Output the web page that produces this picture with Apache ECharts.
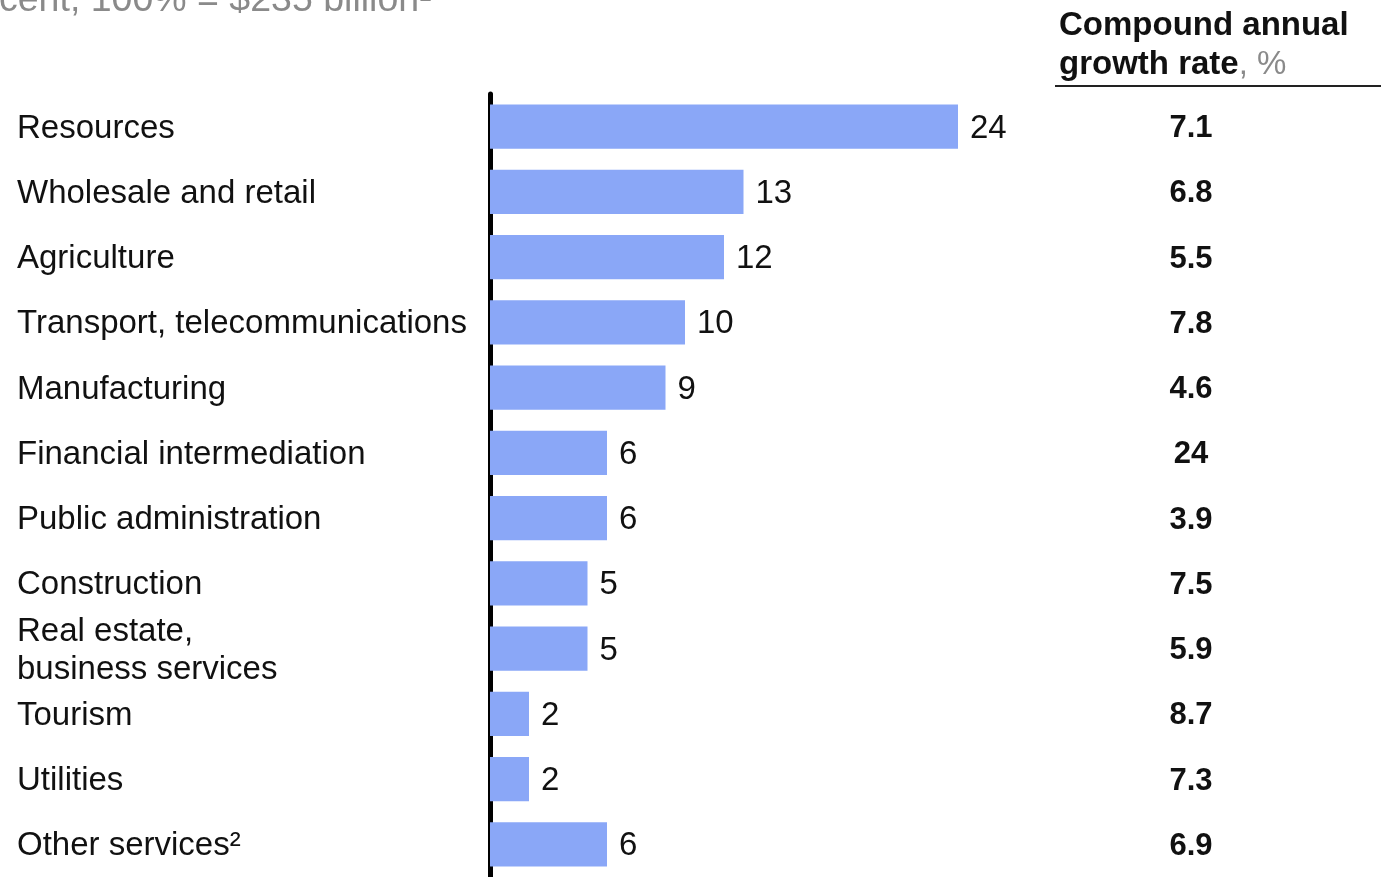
<!DOCTYPE html>
<html>
<head>
<meta charset="utf-8">
<script src="https://cdn.jsdelivr.net/npm/echarts@6/dist/echarts.min.js"></script>
<style>
  html, body { margin: 0; padding: 0; background: #fff; }
  #chart { width: 1381px; height: 877px; }
</style>
</head>
<body>
<div id="chart"></div>
<script>
// Sectors, their share of GDP (%) and compound annual growth rate (%)
const sectors = [
  'Resources',
  'Wholesale and retail',
  'Agriculture',
  'Transport, telecommunications',
  'Manufacturing',
  'Financial intermediation',
  'Public administration',
  'Construction',
  'Real estate,\nbusiness services',
  'Tourism',
  'Utilities',
  'Other services\u00B2'
];
const shares = [24, 13, 12, 10, 9, 6, 6, 5, 5, 2, 2, 6];
const cagr = ['7.1', '6.8', '5.5', '7.8', '4.6', '24', '3.9', '7.5', '5.9', '8.7', '7.3', '6.9'];

const FONT = '"Liberation Sans", Arial, Helvetica, sans-serif';

// A thin spacer line above each label nudges the text a little below the row centre
const nudged = v => '{s| }\n' + String(v).split('\n').map(l => '{a|' + l + '}').join('\n');

const chart = echarts.init(document.getElementById('chart'), null, { renderer: 'canvas' });

chart.setOption({
  animation: false,
  backgroundColor: '#ffffff',
  textStyle: { fontFamily: FONT },
  grid: { left: 490, top: 94, width: 468, height: 783 },
  xAxis: {
    type: 'value',
    min: 0,
    max: 24,
    show: false
  },
  yAxis: [
    {
      type: 'category',
      data: sectors,
      inverse: true,
      offset: 5,
      axisLine: { show: true, lineStyle: { color: '#000', width: 5 } },
      axisTick: { show: false },
      axisLabel: {
        align: 'left',
        margin: 468,
        formatter: nudged,
        rich: {
          s: { fontSize: 1, lineHeight: 4 },
          a: { fontSize: 33, lineHeight: 38, color: '#111', fontFamily: FONT }
        }
      }
    },
    {
      type: 'category',
      data: cagr,
      inverse: true,
      position: 'right',
      axisLine: { show: false },
      axisTick: { show: false },
      axisLabel: {
        align: 'center',
        margin: 233,
        formatter: nudged,
        rich: {
          s: { fontSize: 1, lineHeight: 4 },
          a: { fontSize: 31, lineHeight: 38, fontWeight: 'bold', color: '#111', fontFamily: FONT }
        }
      }
    }
  ],
  series: [
    {
      type: 'bar',
      data: shares,
      barCategoryGap: '32%',
      itemStyle: { color: '#8aa7f7' },
      label: {
        show: true,
        position: 'right',
        distance: 12,
        offset: [0, 2],
        color: '#111',
        fontSize: 33,
        fontFamily: FONT
      }
    }
  ],
  graphic: [
    {
      type: 'text',
      left: -1,
      top: -18,
      style: {
        text: 'cent, 100% = $235 billion\u00B9',
        fill: '#8a8a8a',
        font: '37.5px ' + FONT
      }
    },
    {
      type: 'text',
      left: 1059,
      top: 9,
      style: {
        rich: {
          b: { fontSize: 33, fontWeight: 'bold', fill: '#111', fontFamily: FONT, lineHeight: 39 },
          g: { fontSize: 33, fill: '#8a8a8a', fontFamily: FONT, lineHeight: 39 }
        },
        text: '{b|Compound annual}\n{b|growth rate}{g|, %}'
      }
    },
    {
      type: 'line',
      shape: { x1: 1055, y1: 86, x2: 1381, y2: 86 },
      style: { stroke: '#222', lineWidth: 2 }
    }
  ]
});
</script>
</body>
</html>
